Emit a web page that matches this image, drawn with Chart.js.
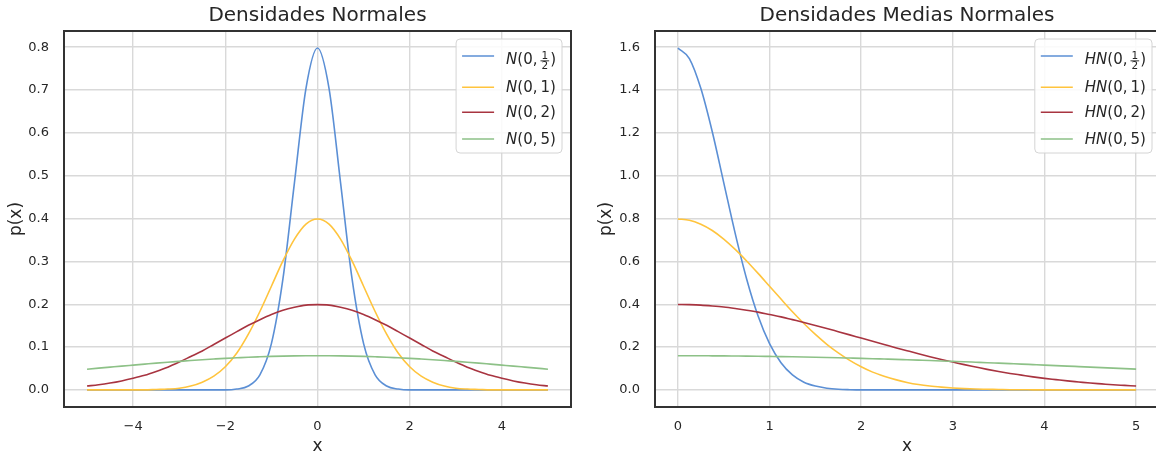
<!DOCTYPE html>
<html>
<head>
<meta charset="utf-8">
<script src="https://cdn.jsdelivr.net/npm/chart.js@4.4.1/dist/chart.umd.min.js"></script>
<style>
  html, body { margin: 0; padding: 0; background: #fff; overflow: hidden; }
  #wrap { position: relative; width: 1156px; height: 457px; overflow: hidden; }
  canvas { position: absolute; top: 0; }
</style>
</head>
<body>
<div id="wrap">
  <canvas id="normalChart" width="580" height="457" style="left:0"></canvas>
  <canvas id="halfNormalChart" width="580" height="457" style="left:590px"></canvas>
</div>
<script>
// x grids
const xNormal = [-5, -4.75, -4.5, -4.25, -4, -3.75, -3.5, -3.25, -3, -2.75, -2.5, -2.25, -2, -1.75, -1.5, -1.25, -1, -0.75, -0.5, -0.25,
  0, 0.25, 0.5, 0.75, 1, 1.25, 1.5, 1.75, 2, 2.25, 2.5, 2.75, 3, 3.25, 3.5, 3.75, 4, 4.25, 4.5, 4.75, 5];
const xHalf = [0, 0.125, 0.25, 0.375, 0.5, 0.625, 0.75, 0.875, 1, 1.125, 1.25, 1.375, 1.5, 1.625, 1.75, 1.875, 2, 2.125, 2.25, 2.375,
  2.5, 2.625, 2.75, 2.875, 3, 3.125, 3.25, 3.375, 3.5, 3.625, 3.75, 3.875, 4, 4.125, 4.25, 4.375, 4.5, 4.625, 4.75, 4.875, 5];

// left panel: normal densities
const normalSd05 = [0, 0, 0, 0, 0, 0, 0, 0, 0, 0, 0, 0, 0, 0.002, 0.009, 0.035, 0.108, 0.259, 0.484, 0.704,
  0.798, 0.704, 0.484, 0.259, 0.108, 0.035, 0.009, 0.002, 0, 0, 0, 0, 0, 0, 0, 0, 0, 0, 0, 0, 0];
const normalSd1 = [0, 0, 0, 0, 0, 0, 0.001, 0.002, 0.004, 0.009, 0.018, 0.032, 0.054, 0.086, 0.130, 0.183, 0.242, 0.301, 0.352, 0.387,
  0.399, 0.387, 0.352, 0.301, 0.242, 0.183, 0.130, 0.086, 0.054, 0.032, 0.018, 0.009, 0.004, 0.002, 0.001, 0, 0, 0, 0, 0, 0];
const normalSd2 = [0.009, 0.012, 0.016, 0.021, 0.027, 0.034, 0.043, 0.053, 0.065, 0.078, 0.091, 0.106, 0.121, 0.136, 0.151, 0.164, 0.176, 0.186, 0.193, 0.198,
  0.199, 0.198, 0.193, 0.186, 0.176, 0.164, 0.151, 0.136, 0.121, 0.106, 0.091, 0.078, 0.065, 0.053, 0.043, 0.034, 0.027, 0.021, 0.016, 0.012, 0.009];
const normalSd5 = [0.0484, 0.0508, 0.0532, 0.0556, 0.0579, 0.0602, 0.0625, 0.0646, 0.0666, 0.0686, 0.0704, 0.0721, 0.0737, 0.0750, 0.0763, 0.0773, 0.0782, 0.0789, 0.0794, 0.0797,
  0.0798, 0.0797, 0.0794, 0.0789, 0.0782, 0.0773, 0.0763, 0.0750, 0.0737, 0.0721, 0.0704, 0.0686, 0.0666, 0.0646, 0.0625, 0.0602, 0.0579, 0.0556, 0.0532, 0.0508, 0.0484];

// right panel: half-normal densities
const halfSd05 = [1.596, 1.547, 1.408, 1.205, 0.968, 0.731, 0.518, 0.345, 0.216, 0.127, 0.070, 0.036, 0.018, 0.008, 0.003, 0.001, 0,
  0, 0, 0, 0, 0, 0, 0, 0, 0, 0, 0, 0, 0, 0, 0, 0, 0, 0, 0, 0, 0, 0, 0, 0];
const halfSd1 = [0.798, 0.792, 0.773, 0.744, 0.704, 0.656, 0.602, 0.544, 0.484, 0.424, 0.365, 0.310, 0.259, 0.213, 0.173, 0.138, 0.108,
  0.083, 0.064, 0.048, 0.035, 0.025, 0.018, 0.013, 0.009, 0.006, 0.004, 0.003, 0.002, 0.001, 0.001, 0, 0, 0, 0, 0, 0, 0, 0, 0, 0];
const halfSd2 = [0.399, 0.398, 0.396, 0.392, 0.387, 0.380, 0.372, 0.363, 0.352, 0.341, 0.328, 0.315, 0.301, 0.287, 0.272, 0.257, 0.242,
  0.227, 0.212, 0.197, 0.183, 0.169, 0.155, 0.142, 0.130, 0.118, 0.107, 0.096, 0.086, 0.077, 0.069, 0.061, 0.054, 0.048, 0.042, 0.037,
  0.032, 0.028, 0.024, 0.021, 0.018];
const halfSd5 = [0.1596, 0.1595, 0.1594, 0.1591, 0.1588, 0.1583, 0.1578, 0.1572, 0.1564, 0.1556, 0.1547, 0.1537, 0.1526, 0.1514, 0.1501,
  0.1487, 0.1473, 0.1458, 0.1442, 0.1426, 0.1408, 0.1390, 0.1372, 0.1353, 0.1333, 0.1313, 0.1292, 0.1271, 0.1249, 0.1227, 0.1205,
  0.1182, 0.1159, 0.1135, 0.1112, 0.1088, 0.1064, 0.1040, 0.1016, 0.0992, 0.0968];

const sdLabels = ["1/2", "1", "2", "5"];

// ticks
const normalXTicks = [-4, -2, 0, 2, 4];
const normalYTicks = [0, 0.1, 0.2, 0.3, 0.4, 0.5, 0.6, 0.7, 0.8];
const halfXTicks = [0, 1, 2, 3, 4, 5];
const halfYTicks = [0, 0.2, 0.4, 0.6, 0.8, 1.0, 1.2, 1.4, 1.6];

const lineColors = ["#5b8fd5", "#ffc43d", "#a83440", "#8dc187"];
const textColor = "#262626";
const FONT = "'DejaVu Sans', sans-serif";

Chart.defaults.font.family = FONT;
Chart.defaults.color = textColor;

function drawMathLabel(ctx, x, baseline, prefix, param, draw) {
  const fs = 15;
  let cx = x;
  ctx.textAlign = "left";
  ctx.textBaseline = "alphabetic";
  ctx.font = "italic " + fs + "px " + FONT;
  if (draw) ctx.fillText(prefix, cx, baseline);
  cx += ctx.measureText(prefix).width;
  ctx.font = fs + "px " + FONT;
  if (draw) ctx.fillText("(0,", cx, baseline);
  cx += ctx.measureText("(0,").width + 3;
  if (param.includes("/")) {
    const [num, den] = param.split("/");
    ctx.font = "10.5px " + FONT;
    const w = Math.max(ctx.measureText(num).width, ctx.measureText(den).width) + 2;
    const bar = baseline - 3.5;
    if (draw) {
      ctx.textAlign = "center";
      ctx.fillText(num, cx + w / 2, bar - 1.7);
      ctx.fillText(den, cx + w / 2, bar + 7.8);
      ctx.fillRect(cx, bar - 0.4, w, 0.9);
      ctx.textAlign = "left";
    }
    cx += w + 1;
    ctx.font = fs + "px " + FONT;
  } else {
    if (draw) ctx.fillText(param, cx, baseline);
    cx += ctx.measureText(param).width;
  }
  if (draw) ctx.fillText(")", cx, baseline);
  cx += ctx.measureText(")").width;
  return cx - x;
}

function drawLegend(chart, prefix, legendRight) {
  const ctx = chart.ctx;
  const a = chart.chartArea;
  const lineOffsets = [17, 48.3, 73.3, 100];
  const baseOffsets = [25.3, 52.7, 78.3, 105.3];
  let textW = 0;
  sdLabels.forEach(p => { textW = Math.max(textW, drawMathLabel(ctx, 0, 0, prefix, p, false)); });
  const w = 6 + 32 + 12 + textW + 6;
  const h = 114;
  const left = legendRight - w;
  const top = a.top + 8;
  ctx.save();
  ctx.beginPath();
  ctx.roundRect(left, top, w, h, 4);
  ctx.fillStyle = "rgba(255,255,255,0.85)";
  ctx.fill();
  ctx.strokeStyle = "#d4d4d4";
  ctx.lineWidth = 1;
  ctx.stroke();
  sdLabels.forEach((p, i) => {
    ctx.strokeStyle = lineColors[i];
    ctx.lineWidth = 1.6;
    ctx.beginPath();
    ctx.moveTo(left + 6, top + lineOffsets[i]);
    ctx.lineTo(left + 38, top + lineOffsets[i]);
    ctx.stroke();
    ctx.fillStyle = textColor;
    drawMathLabel(ctx, left + 50, top + baseOffsets[i], prefix, p, true);
  });
  ctx.restore();
}

function chromePlugin(cfg) {
  return {
    id: "chrome",
    afterDraw(chart) {
      const ctx = chart.ctx;
      const a = chart.chartArea;
      ctx.save();
      // spines (the right panel's right spine lies past the page edge)
      ctx.strokeStyle = "#333333";
      ctx.lineWidth = 2;
      ctx.beginPath();
      ctx.moveTo(a.right, a.top);
      ctx.lineTo(a.left, a.top);
      ctx.lineTo(a.left, a.bottom);
      ctx.lineTo(a.right, a.bottom);
      if (cfg.rightSpine) ctx.closePath();
      ctx.stroke();
      ctx.fillStyle = textColor;
      ctx.textAlign = "center";
      ctx.textBaseline = "middle";
      ctx.font = "20px " + FONT;
      ctx.fillText(cfg.title, (a.left + a.right) / 2, 16);
      ctx.font = "17px " + FONT;
      ctx.fillText("x", (a.left + a.right) / 2, 447);
      ctx.translate(17, (a.top + a.bottom) / 2);
      ctx.rotate(-Math.PI / 2);
      ctx.fillText("p(x)", 0, 0);
      ctx.restore();
      drawLegend(chart, cfg.prefix, cfg.legendRight);
    }
  };
}

function makeDatasets(xs, series) {
  return series.map((ys, i) => ({
    data: xs.map((x, j) => ({ x: x, y: ys[j] })),
    borderColor: lineColors[i],
    borderWidth: 1.6,
    pointRadius: 0,
    fill: false,
    cubicInterpolationMode: "monotone",
    order: series.length - i
  }));
}

const minusFmt = v => (v < 0 ? "\u2212" + Math.abs(v) : String(v));

function renderChart(id, cfg) {
  const grid = { color: "#d9d9d9", lineWidth: 1.4, drawTicks: false };
  new Chart(document.getElementById(id).getContext("2d"), {
    type: "line",
    data: { datasets: makeDatasets(cfg.xs, cfg.series) },
    options: {
      responsive: false,
      animation: false,
      events: [],
      layout: { autoPadding: false, padding: { top: 31, right: cfg.padRight, bottom: 0, left: 0 } },
      plugins: { legend: { display: false }, tooltip: { enabled: false } },
      scales: {
        x: {
          type: "linear",
          min: cfg.xMin,
          max: cfg.xMax,
          grid: grid,
          border: { display: false },
          afterBuildTicks: s => { s.ticks = cfg.xTicks.map(v => ({ value: v })); },
          afterFit: s => { s.height = 50; },
          ticks: { padding: 12, color: textColor, font: { size: 13 }, maxRotation: 0, autoSkip: false, callback: v => minusFmt(v) }
        },
        y: {
          type: "linear",
          min: cfg.yMin,
          max: cfg.yMax,
          grid: grid,
          border: { display: false },
          afterBuildTicks: s => { s.ticks = cfg.yTicks.map(v => ({ value: v })); },
          afterFit: s => { s.width = cfg.yWidth; },
          ticks: { padding: 15, color: textColor, font: { size: 13 }, autoSkip: false, callback: v => v.toFixed(1) }
        }
      }
    },
    plugins: [chromePlugin(cfg)]
  });
}

renderChart("normalChart", {
  xs: xNormal,
  series: [normalSd05, normalSd1, normalSd2, normalSd5],
  xMin: -5.5, xMax: 5.5, yMin: -0.0399, yMax: 0.8378,
  xTicks: normalXTicks, yTicks: normalYTicks,
  yWidth: 64, padRight: 9, legendRight: 562, rightSpine: true,
  title: "Densidades Normales", prefix: "N"
});

renderChart("halfNormalChart", {
  xs: xHalf,
  series: [halfSd05, halfSd1, halfSd2, halfSd5],
  xMin: -0.25, xMax: 5.25, yMin: -0.0798, yMax: 1.6756,
  xTicks: halfXTicks, yTicks: halfYTicks,
  yWidth: 65, padRight: 11, legendRight: 562, rightSpine: false,
  title: "Densidades Medias Normales", prefix: "HN"
});
</script>
</body>
</html>
